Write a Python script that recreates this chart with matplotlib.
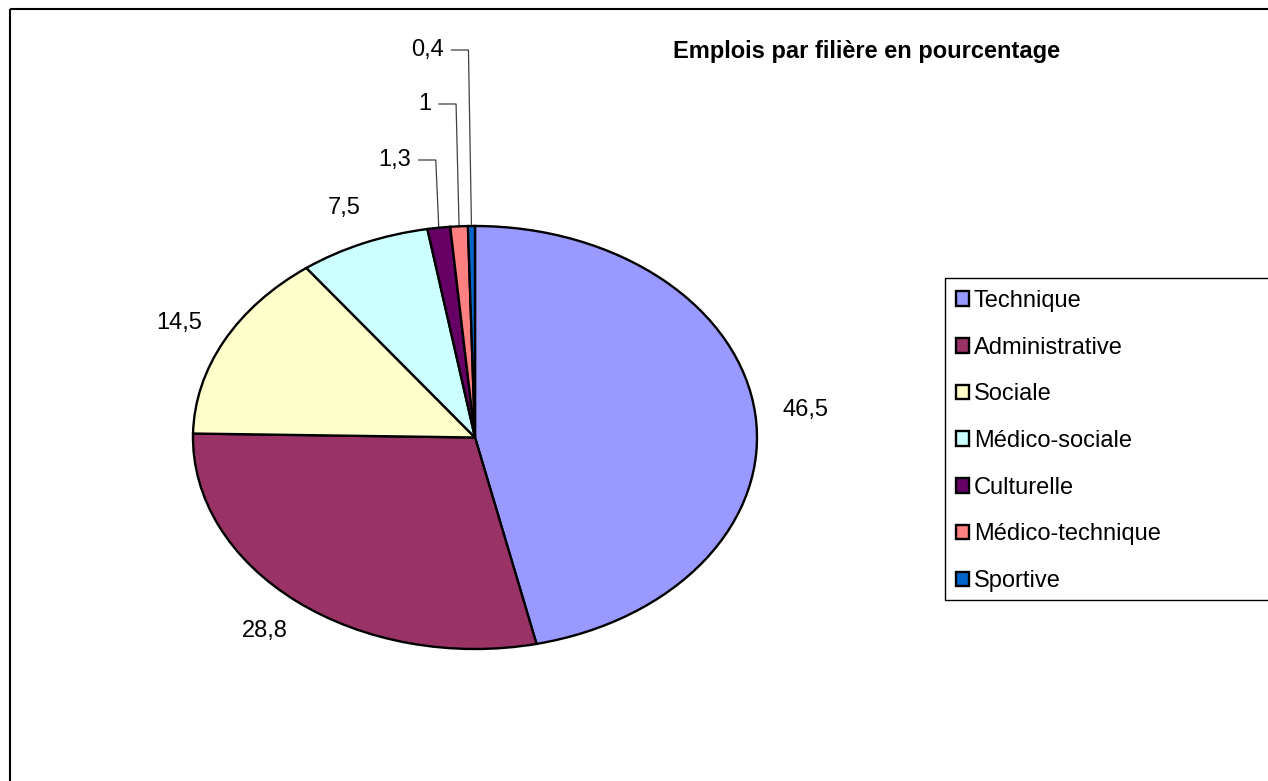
import numpy as np
import matplotlib.pyplot as plt
from matplotlib.patches import Rectangle

plt.rcParams['font.family'] = ['Liberation Sans', 'DejaVu Sans']

# data
filieres = ['Technique', 'Administrative', 'Sociale', 'Médico-sociale',
            'Culturelle', 'Médico-technique', 'Sportive']
pourcentages = [46.5, 28.8, 14.5, 7.5, 1.3, 1, 0.4]
etiquettes = ['46,5', '28,8', '14,5', '7,5', '1,3', '1', '0,4']
couleurs = ['#9999FF', '#993366', '#FFFFCC', '#CCFFFF', '#660066', '#FF8080', '#0066CC']
titre = 'Emplois par filière en pourcentage'

W, H = 1268, 781
fig = plt.figure(figsize=(W / 100, H / 100), dpi=100)

# overlay axes working in pixels (y going down)
over = fig.add_axes([0, 0, 1, 1])
over.set_xlim(0, W)
over.set_ylim(H, 0)
over.axis('off')

# outer frame (runs off the right / bottom edges like the original)
over.add_patch(Rectangle((10, 9), 1400, 900, fill=False, edgecolor='black', linewidth=1.5))

# pie, stretched into an ellipse
left, right, top, bottom = 193, 757, 226, 649
cx, cy = (left + right) / 2, (top + bottom) / 2
rx, ry = (right - left) / 2, (bottom - top) / 2
pie_ax = fig.add_axes([left / W, 1 - bottom / H, (right - left) / W, (bottom - top) / H])
wedges, _ = pie_ax.pie(pourcentages, colors=couleurs, startangle=90, counterclock=False,
                       wedgeprops=dict(edgecolor='black', linewidth=1.7, clip_on=False))
pie_ax.set_aspect('auto')
pie_ax.set_xlim(-1, 1)
pie_ax.set_ylim(-1, 1)
pie_ax.axis('off')

# data labels
hauteurs_petites = [160, 104, 50]   # y (px) of the stacked small labels
k = 0
for i, w in enumerate(wedges):
    ang = np.deg2rad((w.theta1 + w.theta2) / 2)
    if pourcentages[i] >= 5:
        over.text(cx + 1.18 * rx * np.cos(ang), cy - 1.18 * ry * np.sin(ang), etiquettes[i],
                  ha='center', va='center', fontsize=17)
    else:
        ex, ey = cx + rx * np.cos(ang), cy - ry * np.sin(ang)
        ly = hauteurs_petites[k]
        k += 1
        elbow = ex - 3
        over.plot([elbow - 17, elbow, ex], [ly, ly, ey], color='#404040', linewidth=0.9)
        over.text(elbow - 25, ly, etiquettes[i], ha='right', va='center', fontsize=17)

# title
over.text(673, 58, titre, fontsize=17, fontweight='bold', ha='left', va='baseline')

# legend with its box running off the right edge
over.add_patch(Rectangle((945, 278), 500, 322, fill=False, edgecolor='black', linewidth=1.0))
over.legend(wedges, filieres, loc='upper left', bbox_to_anchor=(956 / W, 1 - 290 / H),
            bbox_transform=fig.transFigure, frameon=False, fontsize=17,
            handlelength=0.56, handleheight=0.56, handletextpad=0.2,
            labelspacing=1.045, borderpad=0, borderaxespad=0)

plt.savefig('out.png', dpi=100)
